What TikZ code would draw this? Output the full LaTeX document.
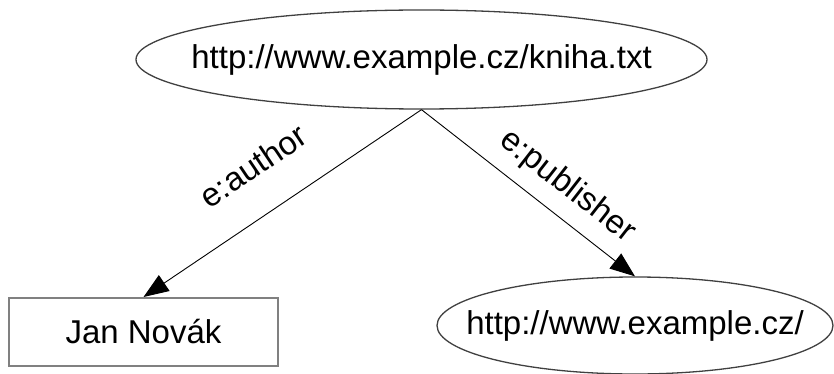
\documentclass[tikz,border=0pt]{standalone}
\usepackage{fontspec}
\setmainfont{Liberation Sans}
\usepackage{tikz}
\usetikzlibrary{shapes.geometric,arrows.meta}

\begin{document}
\begin{tikzpicture}[x=1pt,y=-1pt,
    resource/.style={ellipse,draw=black!75,line width=1.3pt,inner sep=0pt},
    literal/.style={rectangle,draw=black!50,line width=2pt,inner sep=0pt},
    property/.style={-{Triangle[length=25pt,width=19pt]},line width=0.9pt},
    proplabel/.style={sloped,above=13pt,inner sep=0pt}]
      \useasboundingbox (0,0) rectangle (834,374);
      \fontsize{33}{40}\selectfont

      \node[resource,minimum width=571,minimum height=99] (kniha) at (421.5,59.5) {\makebox[0pt]{http://www.example.cz/kniha.txt}};
      \node[literal,minimum width=269,minimum height=68] (autor) at (143.5,332) {Jan Novák};
      \node[resource,minimum width=396,minimum height=97] (vydavatel) at (635,325.5) {\makebox[0pt]{http://www.example.cz/}};

      \draw[property] (kniha.south) -- (autor.north)
        node[proplabel,pos=0.51,above=22pt] {e:author};
      \draw[property] (kniha.south) -- (vydavatel.north)
        node[proplabel,pos=0.6] {e:publisher};
    \end{tikzpicture}
\end{document}
